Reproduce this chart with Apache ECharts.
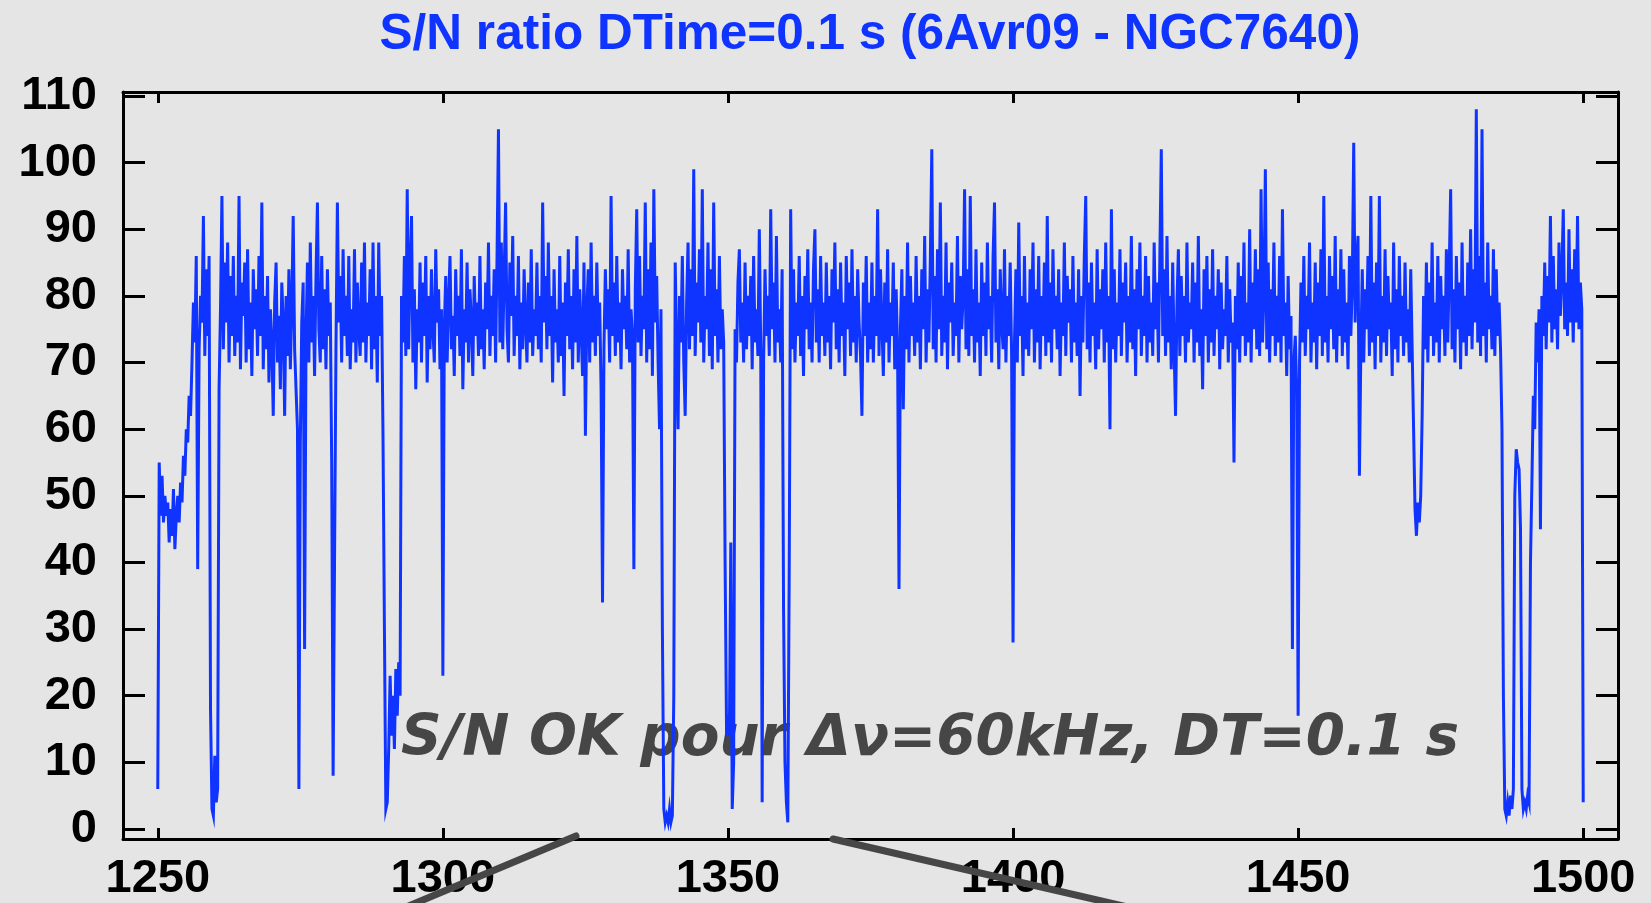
<!DOCTYPE html>
<html>
<head>
<meta charset="utf-8">
<style>
html,body{margin:0;padding:0;background:#e5e5e5;}
#chart{width:1651px;height:903px;}
</style>
<script src="https://cdn.jsdelivr.net/npm/echarts@6/dist/echarts.min.js"></script>
</head>
<body>
<div id="chart"></div>
<script>
// ---- data (time step 0.25 s) ----
const timeStart = 1250;
const timeStep = 0.25;
const sn1250 = [6,55,47,53,46,50,47,49,43,48,44,51,42,47,50,46,52,49,56,53,60,58,65,62,70,79,73,86,39,72,80,76,92,71,84,74,86,18,3,2,11,4,6,66,78,95,72,85,76,88,70,83,74,86,71,80,73,95,69,82,77,85,70,87,72,79,68,84,75,81,71,86,74,94,69,80,72,83,67,78,73,62,79,85,70,77,66,82,76,62,80,71,84,69,78,92,72,66,60,6];
const sn1275 = [58,76,82,27,74,85,70,88,73,80,68,83,94,75,70,86,72,81,69,84,74,79,55,8,40,72,94,76,83,70,87,74,80,71,86,69,78,73,87,70,82,75,71,85,73,88,70,79,74,84,69,88,72,80,67,88,74,80,59,30,3,4,12,23,14,20,12,24,17,25,20,80,73,86,71,96,72,84,92,70,81,66,78,73,85,70,82,74,86,67,80,72,84,75,70,87,76,81,69,78];
const sn1300 = [23,75,83,70,79,86,72,77,68,84,74,80,71,87,66,78,73,85,70,81,76,68,83,74,79,71,86,72,78,69,82,75,88,71,80,74,84,70,86,105,73,88,72,83,94,75,70,85,77,89,71,80,74,86,69,79,72,84,76,70,82,73,87,71,78,74,85,72,80,70,94,76,83,72,88,74,80,67,84,73,78,70,86,71,79,65,82,74,87,72,80,69,84,73,89,70,81,75,68,85];
const sn1325 = [59,78,84,70,88,73,80,71,85,74,79,66,34,72,84,75,81,70,95,74,82,71,86,73,79,69,84,75,80,72,87,70,78,74,39,81,93,73,86,71,80,75,94,70,84,72,88,68,96,76,83,70,60,78,30,3,1,2,1,3,1,2,20,85,72,60,80,73,86,70,62,79,88,72,84,74,99,71,82,76,87,73,96,70,80,75,88,71,84,69,94,74,81,70,86,72,78,73,40,15];
const sn1350 = [16,14,43,3,10,75,70,82,87,73,79,70,85,72,80,74,83,69,86,73,78,71,90,72,4,70,84,74,80,71,93,75,82,70,89,73,78,70,84,33,10,4,1,40,93,72,84,70,79,74,86,71,80,68,83,75,87,72,79,70,84,90,73,81,70,86,74,79,71,85,73,80,69,84,76,88,72,81,70,85,74,79,68,86,75,82,71,87,73,80,70,84,76,71,62,82,74,86,70,79];
const sn1375 = [72,85,70,80,74,93,71,84,76,68,82,73,87,70,79,74,85,69,81,72,36,75,84,63,80,72,88,70,83,74,79,71,86,73,80,69,84,75,89,70,81,73,86,102,72,83,70,87,75,94,71,80,73,88,69,82,76,85,71,79,74,89,70,83,75,80,96,72,84,71,95,74,81,70,87,73,79,68,85,74,82,71,88,75,80,70,86,94,73,81,69,84,76,72,87,70,80,74,85,71];
const sn1400 = [28,73,84,70,91,74,80,68,86,72,79,71,84,75,88,70,81,73,86,69,80,74,85,71,92,73,82,70,87,75,80,72,84,68,79,74,88,71,83,76,81,70,86,73,79,71,84,65,80,73,86,95,72,82,70,85,74,79,69,87,72,81,75,84,70,88,73,80,60,93,72,84,70,79,74,87,71,82,76,85,70,80,73,89,72,81,68,84,75,88,71,80,74,86,70,83,73,79,71,88];
const sn1425 = [75,82,70,86,102,74,84,71,89,73,80,69,85,72,62,79,87,71,83,74,80,70,88,73,79,75,85,70,82,73,89,71,78,66,84,74,86,70,81,73,87,71,80,75,84,69,82,72,78,74,86,70,81,73,76,55,80,72,85,70,83,74,88,71,79,73,90,70,82,75,87,72,84,71,96,73,80,99,72,85,70,81,74,88,71,80,73,86,70,93,74,79,68,83,72,77,27,70,74,66];
const sn1450 = [17,70,82,73,86,71,80,75,88,70,79,73,85,69,82,74,87,71,95,73,80,70,86,75,83,72,89,70,81,74,87,71,84,73,79,69,86,74,82,103,76,85,89,53,72,84,70,81,75,86,71,95,73,82,69,85,74,95,70,80,73,87,71,83,75,79,68,88,72,81,70,86,74,80,71,85,73,78,70,84,72,60,48,44,49,46,50,62,80,72,85,70,82,74,88,71,79,73,86,70];
const sn1475 = [83,75,80,71,87,73,84,96,72,81,70,86,75,82,69,88,73,80,71,85,74,90,72,84,76,108,73,86,71,105,74,82,70,88,75,80,72,87,71,84,74,79,72,60,20,3,2,4,2,5,3,6,50,57,55,54,45,6,3,4,3,5,4,40,52,65,60,76,70,78,45,80,74,85,72,83,76,92,73,86,75,81,72,88,77,83,93,75,82,74,90,76,84,73,87,76,92,75,82,78,4];
const xTicks = [1250, 1300, 1350, 1400, 1450, 1500];
const yTicks = [0, 10, 20, 30, 40, 50, 60, 70, 80, 90, 100, 110];
const titleText = 'S/N ratio DTime=0.1 s (6Avr09 - NGC7640)';
const noteText = 'S/N OK pour \u0394\u03bd=60kHz, DT=0.1 s';

// ---- build series ----
const values = [].concat(sn1250, sn1275, sn1300, sn1325, sn1350, sn1375, sn1400, sn1425, sn1450, sn1475);
const seriesData = values.map((v, i) => [timeStart + i * timeStep, v]);

const blue = '#1034ff';
const labelFont = {fontFamily: '"Liberation Sans", Arial, sans-serif', fontWeight: 'bold', fontSize: 47, color: '#000'};
const axisLineStyle = {color: '#000', width: 3};
const plain = v => String(v);

const chart = echarts.init(document.getElementById('chart'), null, {renderer: 'canvas'});
chart.setOption({
  backgroundColor: '#e5e5e5',
  animation: false,
  grid: {left: 123, right: 33, top: 92, bottom: 64, containLabel: false},
  xAxis: [
    {type: 'value', position: 'bottom', min: 1243.9, max: 1506.1,
     axisLine: {show: true, onZero: false, lineStyle: axisLineStyle},
     axisTick: {show: true, inside: true, length: 11, lineStyle: axisLineStyle, customValues: xTicks},
     axisLabel: Object.assign({show: true, margin: 17, customValues: xTicks, formatter: plain}, labelFont),
     splitLine: {show: false}},
    {type: 'value', position: 'top', min: 1243.9, max: 1506.1,
     axisLine: {show: true, onZero: false, lineStyle: axisLineStyle},
     axisTick: {show: true, inside: true, length: 11, lineStyle: axisLineStyle, customValues: xTicks},
     axisLabel: {show: false},
     splitLine: {show: false}}
  ],
  yAxis: [
    {type: 'value', position: 'left', min: -1.5, max: 110.6,
     axisLine: {show: true, onZero: false, lineStyle: axisLineStyle},
     axisTick: {show: true, inside: true, length: 22, lineStyle: axisLineStyle, customValues: yTicks},
     axisLabel: Object.assign({show: true, margin: 26, customValues: yTicks, formatter: plain}, labelFont),
     splitLine: {show: false}},
    {type: 'value', position: 'right', min: -1.5, max: 110.6,
     axisLine: {show: true, onZero: false, lineStyle: axisLineStyle},
     axisTick: {show: true, inside: true, length: 22, lineStyle: axisLineStyle, customValues: yTicks},
     axisLabel: {show: false},
     splitLine: {show: false}}
  ],
  series: [{
    type: 'line', xAxisIndex: 0, yAxisIndex: 0, data: seriesData,
    showSymbol: false, symbol: 'none', sampling: null, z: 5,
    lineStyle: {color: blue, width: 3, join: 'miter'}
  }],
  graphic: [
    {type: 'text', z: 10, style: {x: 870, y: 35, text: titleText, fill: blue,
      font: 'bold 49.5px "Liberation Sans", Arial, sans-serif', textAlign: 'center', textVerticalAlign: 'middle'}},
    {type: 'text', z: 1, style: {x: 401, y: 740, text: noteText, fill: '#464646',
      font: 'italic bold 56.4px "DejaVu Sans", Verdana, sans-serif', textAlign: 'left', textVerticalAlign: 'middle'}},
    {type: 'line', z: 100, shape: {x1: 399, y1: 910, x2: 576, y2: 836},
      style: {stroke: '#464646', lineWidth: 7, lineCap: 'round'}},
    {type: 'line', z: 100, shape: {x1: 833, y1: 839, x2: 1145, y2: 911},
      style: {stroke: '#464646', lineWidth: 7, lineCap: 'round'}}
  ]
});
</script>
</body>
</html>
